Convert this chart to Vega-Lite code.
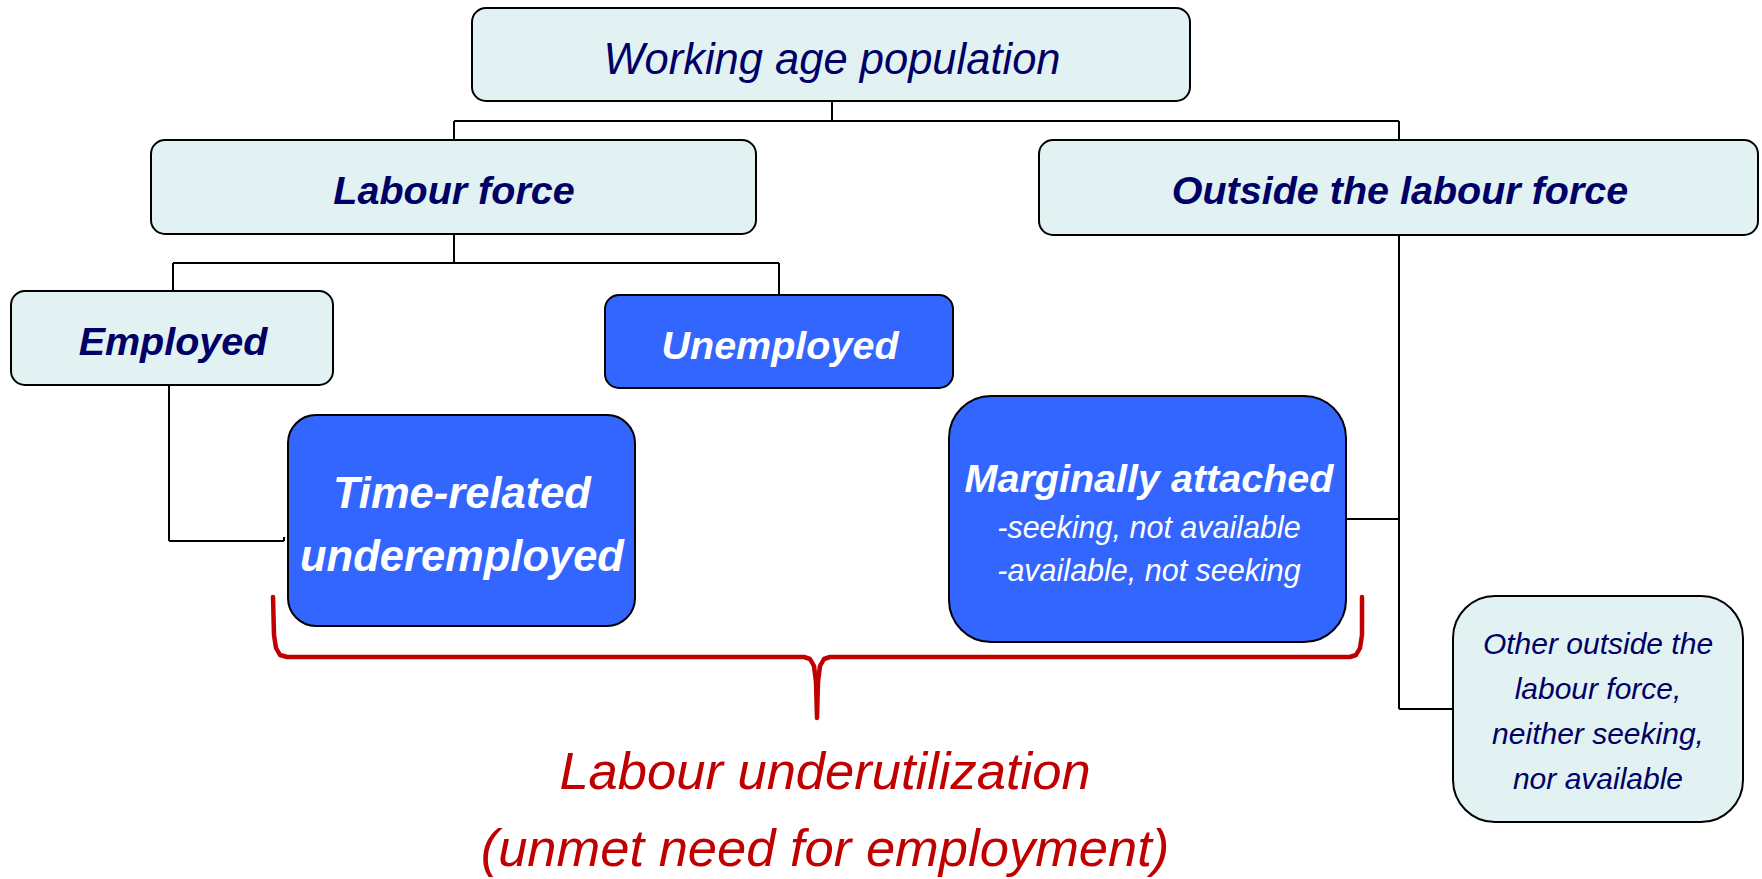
{
  "$schema": "https://vega.github.io/schema/vega-lite/v6.json",
  "width": 1762,
  "height": 879,
  "autosize": {"type": "fit", "contains": "padding"},
  "padding": 0,
  "background": "#ffffff",
  "config": {"view": {"stroke": null}},
  "datasets": {
    "nodes": [
      {"node": "Working age population", "x1": 472, "x2": 1190, "y1": 8, "y2": 101, "tone": "light", "corner": "small"},
      {"node": "Labour force", "x1": 151, "x2": 756, "y1": 140, "y2": 234, "tone": "light", "corner": "small"},
      {"node": "Outside the labour force", "x1": 1039, "x2": 1758, "y1": 140, "y2": 235, "tone": "light", "corner": "small"},
      {"node": "Employed", "x1": 11, "x2": 333, "y1": 291, "y2": 385, "tone": "light", "corner": "small"},
      {"node": "Unemployed", "x1": 605, "x2": 953, "y1": 295, "y2": 388, "tone": "blue", "corner": "small"},
      {"node": "Time-related underemployed", "x1": 288, "x2": 635, "y1": 415, "y2": 626, "tone": "blue", "corner": "medium"},
      {"node": "Marginally attached", "x1": 949, "x2": 1346, "y1": 396, "y2": 642, "tone": "blue", "corner": "large"},
      {"node": "Other outside the labour force", "x1": 1453, "x2": 1743, "y1": 596, "y2": 822, "tone": "light", "corner": "large"}
    ],
    "links": [
      {"x1": 832, "x2": 832, "y1": 101, "y2": 121},
      {"x1": 454, "x2": 1399, "y1": 121, "y2": 121},
      {"x1": 454, "x2": 454, "y1": 121, "y2": 140},
      {"x1": 1399, "x2": 1399, "y1": 121, "y2": 140},
      {"x1": 454, "x2": 454, "y1": 234, "y2": 263},
      {"x1": 173, "x2": 779, "y1": 263, "y2": 263},
      {"x1": 173, "x2": 173, "y1": 263, "y2": 291},
      {"x1": 779, "x2": 779, "y1": 263, "y2": 295},
      {"x1": 169, "x2": 169, "y1": 385, "y2": 541},
      {"x1": 169, "x2": 284, "y1": 541, "y2": 541},
      {"x1": 284, "x2": 284, "y1": 537, "y2": 541},
      {"x1": 1399, "x2": 1399, "y1": 235, "y2": 709},
      {"x1": 1399, "x2": 1453, "y1": 709, "y2": 709},
      {"x1": 1346, "x2": 1399, "y1": 519, "y2": 519}
    ],
    "brace": [
      {"order": 1, "x": 273, "y": 597},
      {"order": 2, "x": 274, "y": 635},
      {"order": 3, "x": 276, "y": 648},
      {"order": 4, "x": 280, "y": 655},
      {"order": 5, "x": 287, "y": 657},
      {"order": 6, "x": 804, "y": 657},
      {"order": 7, "x": 810, "y": 659},
      {"order": 8, "x": 814, "y": 666},
      {"order": 9, "x": 816, "y": 682},
      {"order": 10, "x": 817, "y": 718},
      {"order": 11, "x": 818, "y": 682},
      {"order": 12, "x": 820, "y": 666},
      {"order": 13, "x": 824, "y": 659},
      {"order": 14, "x": 830, "y": 657},
      {"order": 15, "x": 1350, "y": 657},
      {"order": 16, "x": 1356, "y": 655},
      {"order": 17, "x": 1360, "y": 648},
      {"order": 18, "x": 1362, "y": 635},
      {"order": 19, "x": 1362, "y": 597}
    ],
    "labels": [
      {"label": "Working age population", "x": 832, "y": 74, "style": "heading"},
      {"label": "Labour force", "x": 454, "y": 204, "style": "category"},
      {"label": "Outside the labour force", "x": 1400, "y": 204, "style": "category"},
      {"label": "Employed", "x": 173, "y": 355, "style": "category"},
      {"label": "Unemployed", "x": 780, "y": 359, "style": "categoryBlue"},
      {"label": ["Time-related", "underemployed"], "x": 462, "y": 508, "style": "underemployed"},
      {"label": "Marginally attached", "x": 1149, "y": 492, "style": "marginal"},
      {"label": ["-seeking, not available", "-available, not seeking"], "x": 1149, "y": 538, "style": "marginalSub"},
      {"label": ["Other outside the", "labour force,", "neither seeking,", "nor available"], "x": 1598, "y": 654, "style": "other"},
      {"label": ["Labour underutilization", "(unmet need for employment)"], "x": 825, "y": 789, "style": "underutilization"}
    ]
  },
  "encoding": {
    "x": {"field": "x1", "type": "quantitative", "scale": {"domain": [0, 1762], "nice": false, "zero": false}, "axis": null},
    "y": {"field": "y1", "type": "quantitative", "scale": {"domain": [0, 879], "reverse": true, "nice": false, "zero": false}, "axis": null}
  },
  "layer": [
    {
      "data": {"name": "links"},
      "mark": {"type": "rule", "color": "#000000", "strokeWidth": 2},
      "encoding": {"x2": {"field": "x2"}, "y2": {"field": "y2"}}
    },
    {
      "data": {"name": "brace"},
      "mark": {"type": "line", "color": "#C00000", "strokeWidth": 4.5, "strokeCap": "round", "strokeJoin": "round", "interpolate": "linear"},
      "encoding": {
        "x": {"field": "x", "type": "quantitative"},
        "y": {"field": "y", "type": "quantitative"},
        "order": {"field": "order", "type": "quantitative"}
      }
    },
    {
      "data": {"name": "nodes"},
      "transform": [{"filter": "datum.corner === 'small'"}],
      "mark": {"type": "rect", "cornerRadius": 14, "stroke": "#000000", "strokeWidth": 2},
      "encoding": {
        "x2": {"field": "x2"}, "y2": {"field": "y2"},
        "fill": {"field": "tone", "type": "nominal", "scale": {"domain": ["light", "blue"], "range": ["#E2F2F2", "#3366FF"]}, "legend": null}
      }
    },
    {
      "data": {"name": "nodes"},
      "transform": [{"filter": "datum.corner === 'medium'"}],
      "mark": {"type": "rect", "cornerRadius": 28, "stroke": "#000000", "strokeWidth": 2},
      "encoding": {
        "x2": {"field": "x2"}, "y2": {"field": "y2"},
        "fill": {"field": "tone", "type": "nominal", "scale": {"domain": ["light", "blue"], "range": ["#E2F2F2", "#3366FF"]}, "legend": null}
      }
    },
    {
      "data": {"name": "nodes"},
      "transform": [{"filter": "datum.corner === 'large'"}],
      "mark": {"type": "rect", "cornerRadius": 42, "stroke": "#000000", "strokeWidth": 2},
      "encoding": {
        "x2": {"field": "x2"}, "y2": {"field": "y2"},
        "fill": {"field": "tone", "type": "nominal", "scale": {"domain": ["light", "blue"], "range": ["#E2F2F2", "#3366FF"]}, "legend": null}
      }
    },
    {
      "data": {"name": "labels"},
      "transform": [{"filter": "datum.style === 'heading'"}],
      "mark": {"type": "text", "font": "Liberation Sans", "fontStyle": "italic", "fontSize": 43.5, "color": "#000066", "align": "center", "baseline": "alphabetic"},
      "encoding": {"x": {"field": "x", "type": "quantitative"}, "y": {"field": "y", "type": "quantitative"}, "text": {"field": "label"}}
    },
    {
      "data": {"name": "labels"},
      "transform": [{"filter": "datum.style === 'category'"}],
      "mark": {"type": "text", "font": "Liberation Sans", "fontStyle": "italic", "fontWeight": "bold", "fontSize": 39.5, "color": "#000066", "align": "center", "baseline": "alphabetic"},
      "encoding": {"x": {"field": "x", "type": "quantitative"}, "y": {"field": "y", "type": "quantitative"}, "text": {"field": "label"}}
    },
    {
      "data": {"name": "labels"},
      "transform": [{"filter": "datum.style === 'categoryBlue'"}],
      "mark": {"type": "text", "font": "Liberation Sans", "fontStyle": "italic", "fontWeight": "bold", "fontSize": 39.5, "color": "#ffffff", "align": "center", "baseline": "alphabetic"},
      "encoding": {"x": {"field": "x", "type": "quantitative"}, "y": {"field": "y", "type": "quantitative"}, "text": {"field": "label"}}
    },
    {
      "data": {"name": "labels"},
      "transform": [{"filter": "datum.style === 'underemployed'"}],
      "mark": {"type": "text", "font": "Liberation Sans", "fontStyle": "italic", "fontWeight": "bold", "fontSize": 43.5, "lineHeight": 63, "color": "#ffffff", "align": "center", "baseline": "alphabetic"},
      "encoding": {"x": {"field": "x", "type": "quantitative"}, "y": {"field": "y", "type": "quantitative"}, "text": {"field": "label"}}
    },
    {
      "data": {"name": "labels"},
      "transform": [{"filter": "datum.style === 'marginal'"}],
      "mark": {"type": "text", "font": "Liberation Sans", "fontStyle": "italic", "fontWeight": "bold", "fontSize": 39.5, "color": "#ffffff", "align": "center", "baseline": "alphabetic"},
      "encoding": {"x": {"field": "x", "type": "quantitative"}, "y": {"field": "y", "type": "quantitative"}, "text": {"field": "label"}}
    },
    {
      "data": {"name": "labels"},
      "transform": [{"filter": "datum.style === 'marginalSub'"}],
      "mark": {"type": "text", "font": "Liberation Sans", "fontStyle": "italic", "fontSize": 30.5, "lineHeight": 43, "color": "#ffffff", "align": "center", "baseline": "alphabetic"},
      "encoding": {"x": {"field": "x", "type": "quantitative"}, "y": {"field": "y", "type": "quantitative"}, "text": {"field": "label"}}
    },
    {
      "data": {"name": "labels"},
      "transform": [{"filter": "datum.style === 'other'"}],
      "mark": {"type": "text", "font": "Liberation Sans", "fontStyle": "italic", "fontSize": 30, "lineHeight": 45, "color": "#000066", "align": "center", "baseline": "alphabetic"},
      "encoding": {"x": {"field": "x", "type": "quantitative"}, "y": {"field": "y", "type": "quantitative"}, "text": {"field": "label"}}
    },
    {
      "data": {"name": "labels"},
      "transform": [{"filter": "datum.style === 'underutilization'"}],
      "mark": {"type": "text", "font": "Liberation Sans", "fontStyle": "italic", "fontSize": 52.5, "lineHeight": 77, "color": "#C00000", "align": "center", "baseline": "alphabetic"},
      "encoding": {"x": {"field": "x", "type": "quantitative"}, "y": {"field": "y", "type": "quantitative"}, "text": {"field": "label"}}
    }
  ]
}
